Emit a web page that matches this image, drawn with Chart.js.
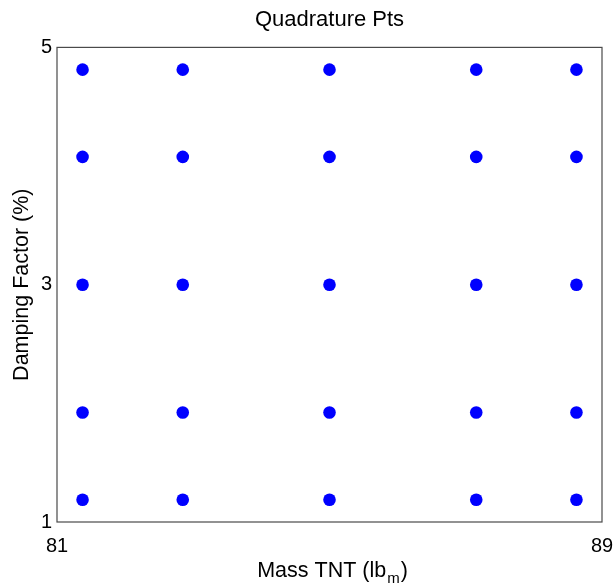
<!DOCTYPE html>
<html>
<head>
<meta charset="utf-8">
<script src="https://cdn.jsdelivr.net/npm/chart.js@4"></script>
<style>
  html, body { margin: 0; padding: 0; background: #fff; }
  #wrap { width: 615px; height: 587px; position: relative; }
</style>
</head>
<body>
<div id="wrap"><canvas id="quadChart"></canvas></div>
<script>
// Puntos de cuadratura
const massNodes = [81.375, 82.846, 85, 87.154, 88.625];
const dampNodes = [1.1875, 1.923, 3, 4.077, 4.8125];
const xTicks = [81, 89];
const yTicks = [1, 3, 5];

const FONT = "'Liberation Sans', Arial, Helvetica, sans-serif";

// malla de puntos (cada masa con cada amortiguamiento)
const points = [];
dampNodes.forEach(d => {
    massNodes.forEach(m => points.push({ x: m, y: d }));
});

// caja alrededor del area de trazado + etiqueta x con subindice
const boxAndLabel = {
    id: 'boxAndLabel',
    beforeDatasetsDraw(chart) {
        const a = chart.chartArea;
        const ctx = chart.ctx;
        ctx.save();
        ctx.strokeStyle = '#4a4a4a';
        ctx.lineWidth = 1.2;
        ctx.strokeRect(a.left, a.top, a.right - a.left, a.bottom - a.top);
        ctx.restore();
    },
    afterDraw(chart) {
        const a = chart.chartArea;
        const ctx = chart.ctx;
        ctx.save();
        ctx.fillStyle = '#000';
        ctx.textBaseline = 'alphabetic';
        const main = '21.5px ' + FONT, sub = '15px ' + FONT;
        ctx.font = main;
        const w1 = ctx.measureText('Mass TNT (lb').width;
        const w3 = ctx.measureText(')').width;
        ctx.font = sub;
        const w2 = ctx.measureText('m').width + 2;
        let x = (a.left + a.right) / 2 - (w1 + w2 + w3) / 2 + 3;
        const base = 577;
        ctx.font = main;
        ctx.fillText('Mass TNT (lb', x, base);
        ctx.font = sub;
        ctx.fillText('m', x + w1 + 1, base + 6);
        ctx.font = main;
        ctx.fillText(')', x + w1 + w2, base);
        ctx.restore();
    }
};

new Chart(document.getElementById('quadChart'), {
    type: 'scatter',
    data: {
        datasets: [{
            data: points,
            backgroundColor: '#0000ff',
            borderColor: '#0000ff',
            pointRadius: 6.3,
            pointHoverRadius: 6.3,
            borderWidth: 0
        }]
    },
    plugins: [boxAndLabel],
    options: {
        responsive: true,
        maintainAspectRatio: false,
        animation: false,
        layout: { autoPadding: false, padding: { left: 0, right: 13, top: 0, bottom: 0 } },
        plugins: {
            legend: { display: false },
            tooltip: { enabled: false },
            title: {
                display: true,
                text: 'Quadrature Pts',
                fullSize: false,
                color: '#000',
                font: { family: FONT, size: 22, weight: 'normal' },
                padding: { top: 7, bottom: 14 }
            }
        },
        scales: {
            x: {
                type: 'linear',
                min: 81,
                max: 89,
                grid: { display: false, drawTicks: false },
                border: { display: false },
                afterBuildTicks: s => { s.ticks = xTicks.map(v => ({ value: v })); },
                afterFit: s => { s.height = 65; s.paddingLeft = 0; s.paddingRight = 0; },
                ticks: {
                    color: '#000',
                    padding: 12,
                    maxRotation: 0,
                    font: { family: FONT, size: 20 }
                },
                title: { display: false }
            },
            y: {
                type: 'linear',
                min: 1,
                max: 5,
                grid: { display: false, drawTicks: false },
                border: { display: false },
                afterBuildTicks: s => { s.ticks = yTicks.map(v => ({ value: v })); },
                afterFit: s => { s.width = 57; s.paddingTop = 0; s.paddingBottom = 0; },
                ticks: {
                    color: '#000',
                    padding: 5,
                    font: { family: FONT, size: 20 }
                },
                title: {
                    display: true,
                    text: 'Damping Factor (%)',
                    color: '#000',
                    font: { family: FONT, size: 21.5 },
                    padding: { top: 9, bottom: 0 }
                }
            }
        }
    }
});
</script>
</body>
</html>
